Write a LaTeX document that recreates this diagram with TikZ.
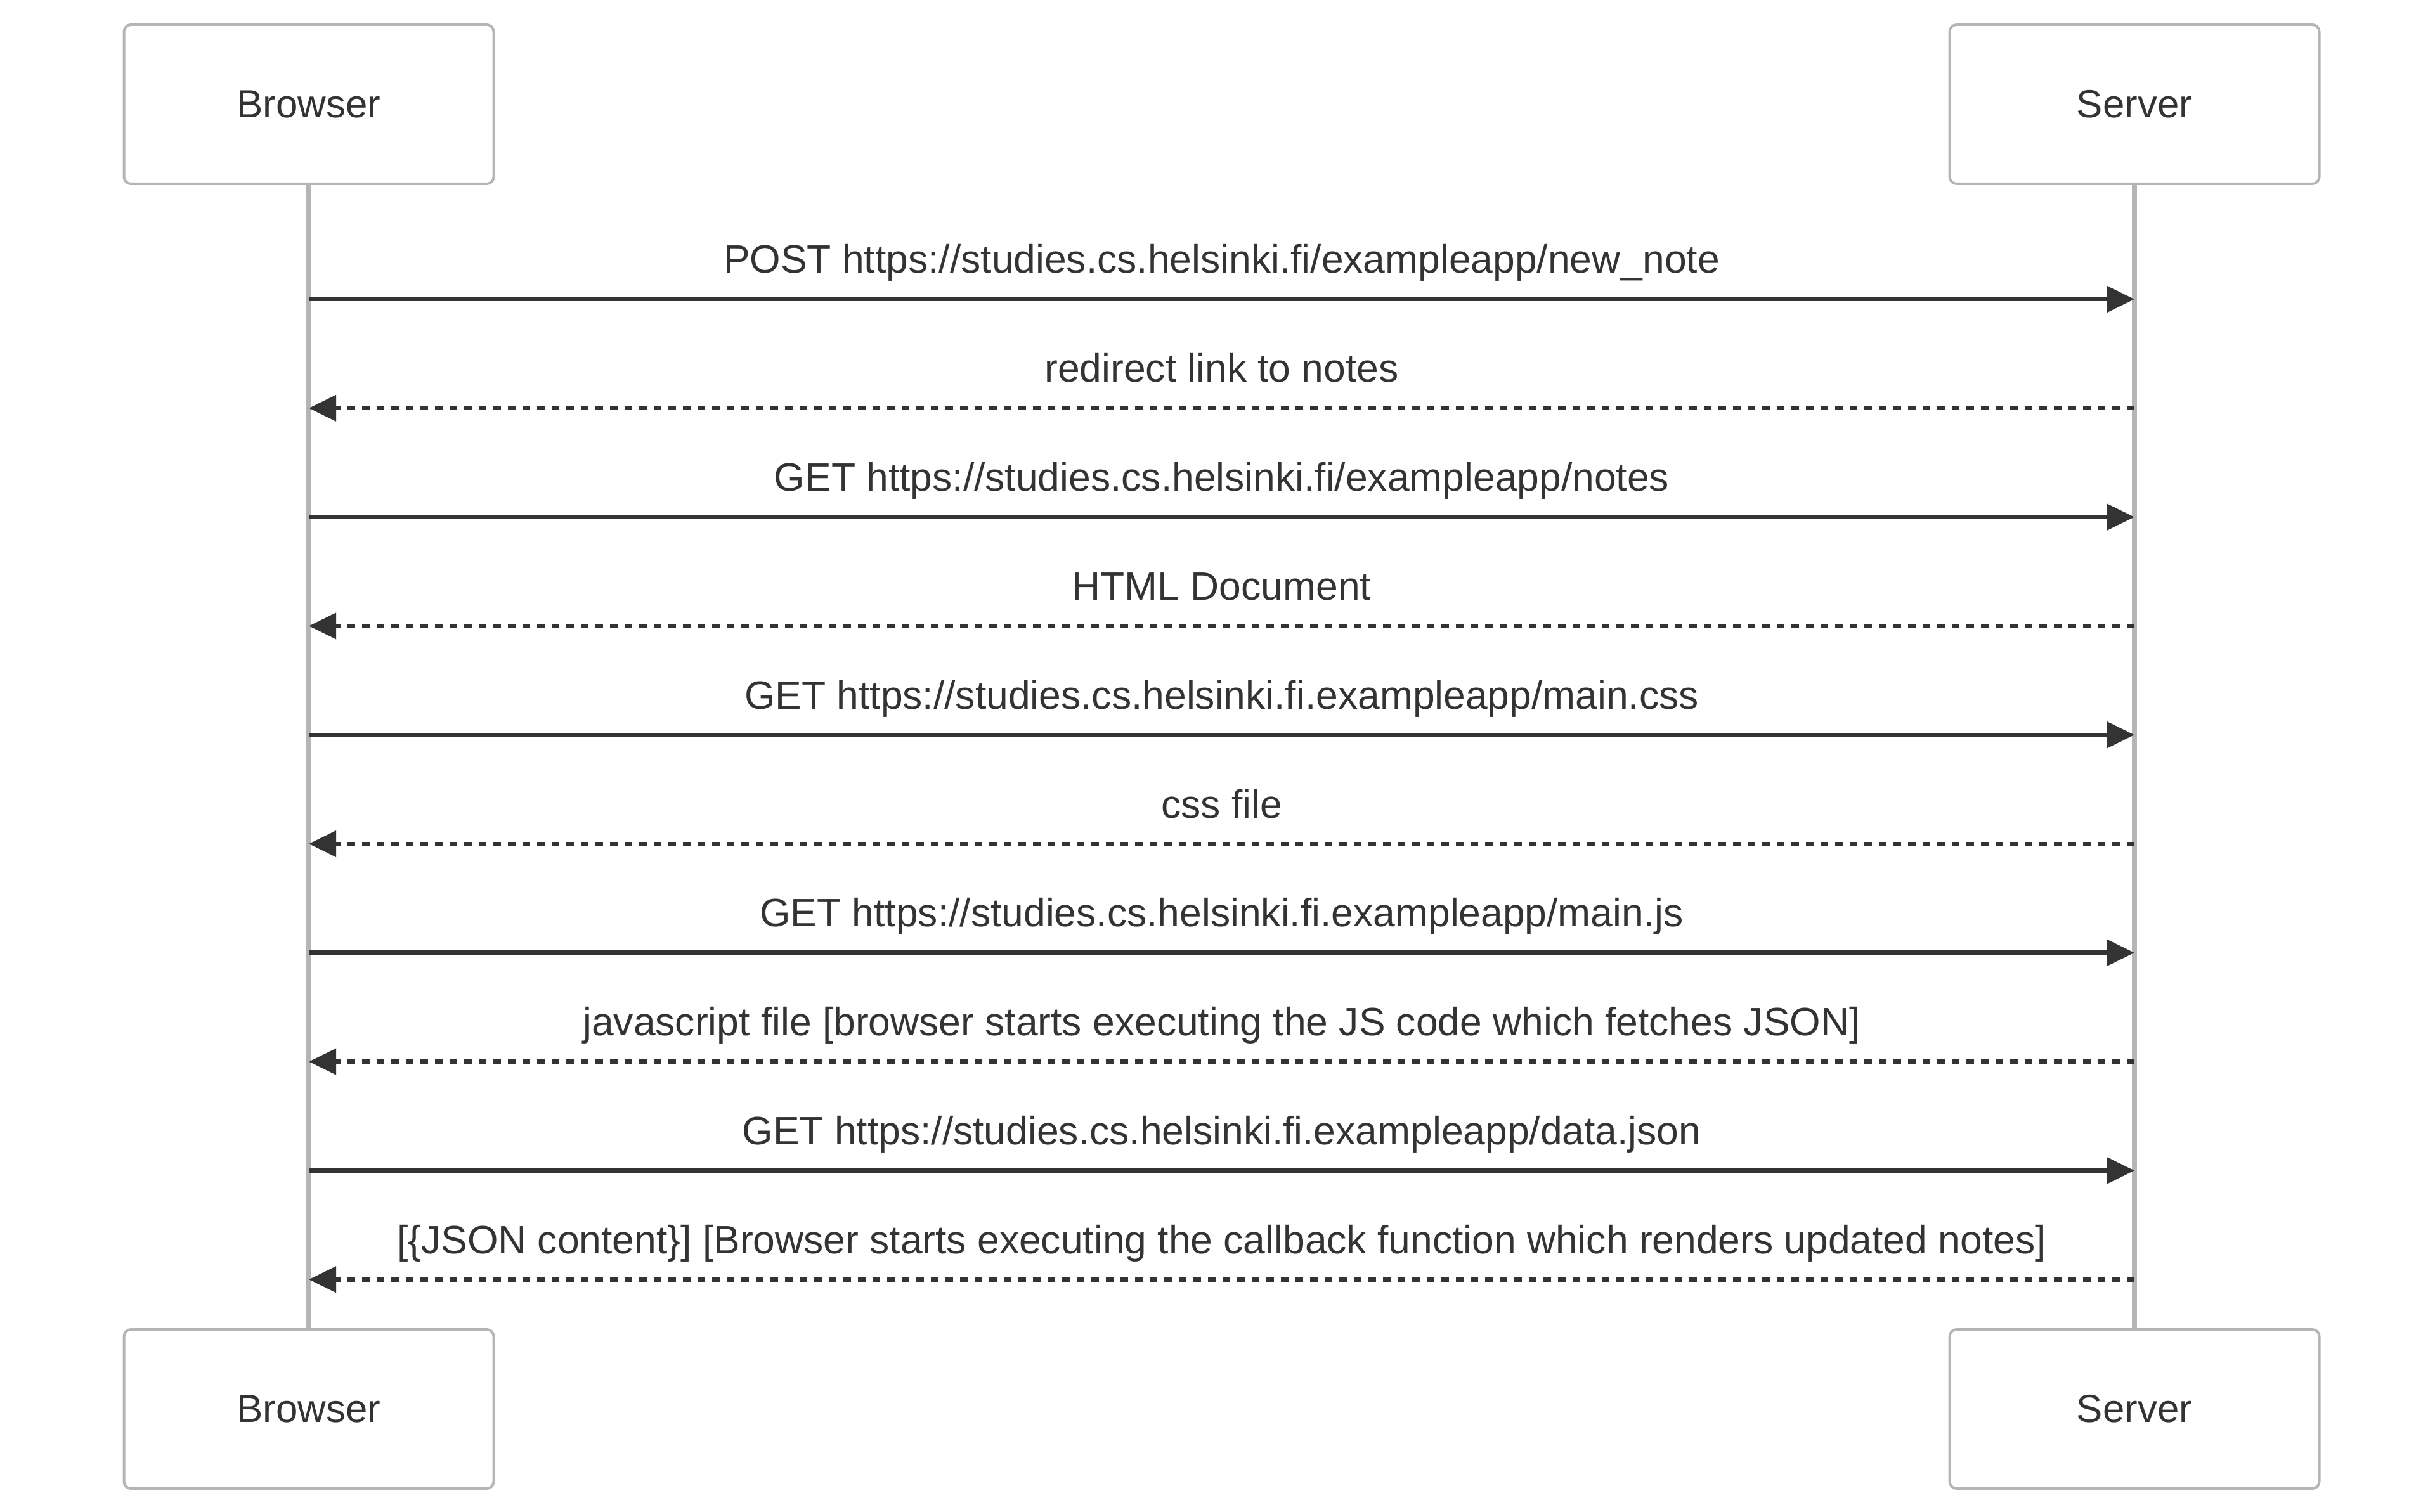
\documentclass[tikz,border=0pt]{standalone}
\usepackage{fontspec}
\setmainfont{Liberation Sans}
\usetikzlibrary{arrows.meta}
\usetikzlibrary{positioning}
\definecolor{ink}{HTML}{333333}
\definecolor{rulegray}{HTML}{B5B5B5}

\begin{document}
\begin{tikzpicture}[
actor/.style={rectangle, draw=rulegray, line width=0.04cm, rounded corners=0.11cm, fill=white, text=ink, minimum width=5.83cm, minimum height=2.51cm, font=\fontsize{17.6}{21}\selectfont},
life/.style={draw=rulegray, line width=0.075cm},
call/.style={draw=ink, line width=0.07cm, -{Triangle[length=0.43cm, width=0.40cm]}},
reply/.style={call, dash pattern=on 0.12cm off 0.11cm},
msg/.style={anchor=base, yshift=0.41cm, text=ink, inner sep=0pt, font=\fontsize{17.75}{21}\selectfont},
]
\useasboundingbox (0,0) rectangle (38.4,-23.85);
\node[actor](bTop) at (4.87,-1.645){Browser};
\node[actor](sTop)[right=22.92cm of bTop]{Server};
\node[actor](bBot)[below=18.03cm of bTop]{Browser};
\node[actor](sBot)[below=18.03cm of sTop]{Server};
\draw[life] (bTop.south) -- (bBot.north);
\draw[life] (sTop.south) -- (sBot.north);
% points on the lifelines, one per message
\foreach \i in {1,...,10} {
  \path (bTop.south) ++(0,{-1.80-1.718*(\i-1)}) coordinate (b\i);
  \path (sTop.south) ++(0,{-1.80-1.718*(\i-1)}) coordinate (s\i);
}
\draw[call] (b1) -- node[msg]{POST https://studies.cs.helsinki.fi/exampleapp/new\_note} (s1);
\draw[reply] (s2) -- node[msg]{redirect link to notes} (b2);
\draw[call] (b3) -- node[msg]{GET https://studies.cs.helsinki.fi/exampleapp/notes} (s3);
\draw[reply] (s4) -- node[msg]{HTML Document} (b4);
\draw[call] (b5) -- node[msg]{GET https://studies.cs.helsinki.fi.exampleapp/main.css} (s5);
\draw[reply] (s6) -- node[msg]{css file} (b6);
\draw[call] (b7) -- node[msg]{GET https://studies.cs.helsinki.fi.exampleapp/main.js} (s7);
\draw[reply] (s8) -- node[msg]{javascript file [browser starts executing the JS code which fetches JSON]} (b8);
\draw[call] (b9) -- node[msg]{GET https://studies.cs.helsinki.fi.exampleapp/data.json} (s9);
\draw[reply] (s10) -- node[msg]{[\{JSON content\}] [Browser starts executing the callback function which renders updated notes]} (b10);
\end{tikzpicture}
\end{document}
